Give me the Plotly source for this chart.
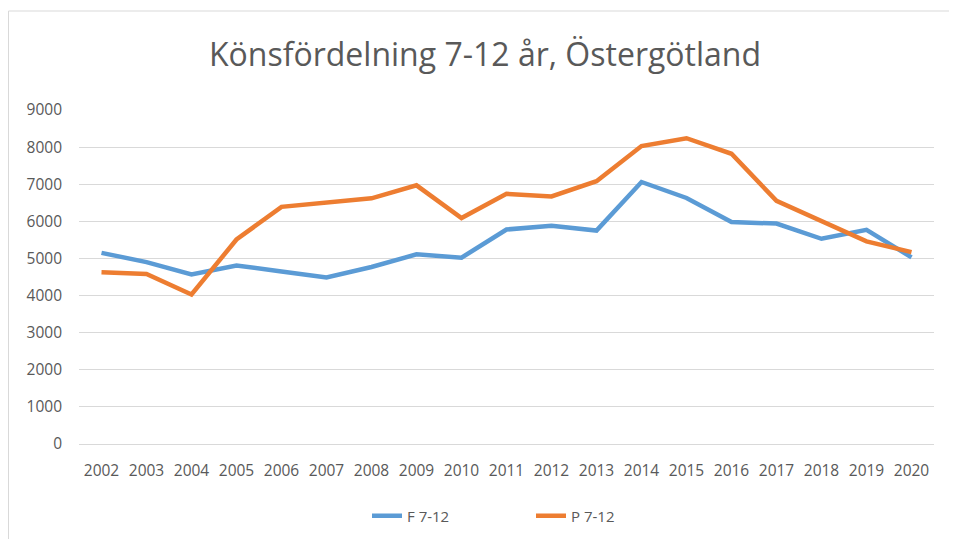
import plotly.graph_objects as go

years = [str(y) for y in range(2002, 2021)]
f_values = [5150, 4900, 4570, 4810, 4650, 4490, 4770, 5110, 5020, 5780,
            5880, 5750, 7060, 6630, 5980, 5940, 5530, 5770, 5030]
p_values = [4630, 4580, 4030, 5510, 6390, 6500, 6620, 6970, 6090, 6740,
            6670, 7080, 8030, 8240, 7820, 6550, 6000, 5460, 5170]
series_names = ["F 7-12", "P 7-12"]
colors = ["#5B9BD5", "#ED7D31"]
title_text = "Könsfördelning 7-12 år, Östergötland"

fig = go.Figure()
for name, vals, col in zip(series_names, [f_values, p_values], colors):
    fig.add_trace(go.Scatter(x=years, y=vals, mode="lines", name=name,
                             line=dict(color=col, width=4.5)))

# the page body adds an 8px offset; layout positions compensate for it
OFF = 8
W, H = 957, 539
ml = 79 - OFF
mt = 110 - OFF
plot_right = 934 - OFF
plot_bottom = 444 - OFF
mr = W - plot_right
mb = H - plot_bottom
pw, ph = W - ml - mr, H - mt - mb

fig.update_layout(
    width=W, height=H,
    margin=dict(l=ml, r=mr, t=mt, b=mb, autoexpand=False),
    paper_bgcolor="white", plot_bgcolor="white",
    font=dict(family="Open Sans, Liberation Sans, sans-serif", color="#595959", size=15.5),
    title=dict(text=title_text, x=(485 - OFF) / W, xref="container", xanchor="center",
               y=1 - (55 - OFF) / H, yref="container", yanchor="middle",
               font=dict(size=32, color="#595959")),
    xaxis=dict(type="category", range=[-0.5, len(years) - 0.5], showgrid=False,
               showline=True, linecolor="#D9D9D9", linewidth=1,
               ticks="", ticklabelstandoff=12, tickfont=dict(size=15.5, color="#595959"),
               fixedrange=True),
    yaxis=dict(range=[0, 9000], dtick=1000, showgrid=True, gridcolor="#D9D9D9",
               gridwidth=1, zeroline=False, ticks="", tickformat="d",
               ticklabelstandoff=16,
               tickfont=dict(size=15.5, color="#595959"), fixedrange=True),
    legend=dict(orientation="h", x=(531 - OFF) / W, xref="container", xanchor="center",
                y=1 - (516 - OFF) / H, yref="container", yanchor="middle",
                entrywidth=119, entrywidthmode="pixels",
                font=dict(size=15, color="#595959")),
    showlegend=True,
)

# chart border
fig.add_shape(type="rect", xref="paper", yref="paper",
              x0=(0.5 - ml) / pw, x1=(W + 5 - ml) / pw,
              y0=-(H + 5 - mt - ph) / ph, y1=1 + (mt - (11 - OFF)) / ph,
              line=dict(color="#D9D9D9", width=1), fillcolor="rgba(0,0,0,0)", layer="below")

fig.write_html("out.html")
